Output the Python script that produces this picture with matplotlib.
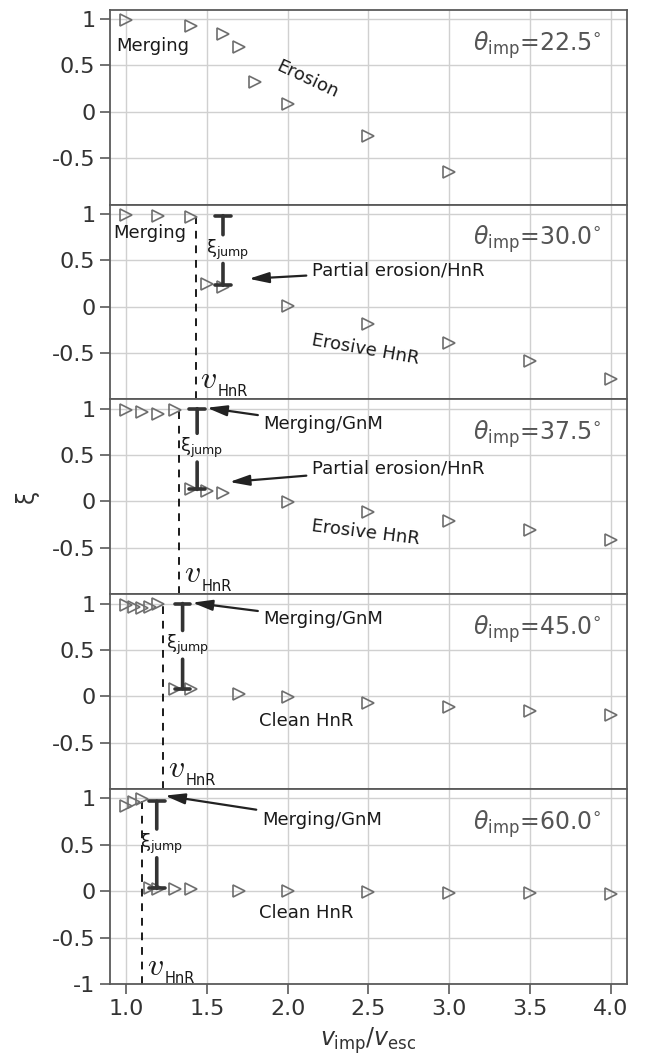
import matplotlib
matplotlib.use("Agg")
import matplotlib.pyplot as plt

# impact angles of the five panels
theta = [22.5, 30.0, 37.5, 45.0, 60.0]

# v_imp/v_esc and xi for each angle
v_225 = [1.0, 1.4, 1.6, 1.7, 1.8, 2.0, 2.5, 3.0]
xi_225 = [0.985, 0.92, 0.84, 0.70, 0.325, 0.08, -0.26, -0.65]

v_300 = [1.0, 1.2, 1.4, 1.5, 1.6, 2.0, 2.5, 3.0, 3.5, 4.0]
xi_300 = [0.99, 0.98, 0.97, 0.24, 0.21, 0.01, -0.19, -0.39, -0.585, -0.78]

v_375 = [1.0, 1.1, 1.2, 1.3, 1.4, 1.5, 1.6, 2.0, 2.5, 3.0, 3.5, 4.0]
xi_375 = [0.985, 0.96, 0.94, 0.99, 0.13, 0.11, 0.095, -0.01, -0.11, -0.21, -0.31, -0.41]

v_450 = [1.0, 1.05, 1.1, 1.15, 1.2, 1.3, 1.4, 1.7, 2.0, 2.5, 3.0, 3.5, 4.0]
xi_450 = [0.98, 0.96, 0.95, 0.96, 0.99, 0.08, 0.075, 0.02, -0.01, -0.07, -0.115, -0.155, -0.205]

v_600 = [1.0, 1.05, 1.1, 1.15, 1.2, 1.3, 1.4, 1.7, 2.0, 2.5, 3.0, 3.5, 4.0]
xi_600 = [0.92, 0.96, 0.99, 0.03, 0.025, 0.025, 0.025, 0.005, 0.0, -0.01, -0.02, -0.02, -0.025]

v_all = [v_225, v_300, v_375, v_450, v_600]
xi_all = [xi_225, xi_300, xi_375, xi_450, xi_600]

# hit-and-run threshold velocity and the xi jump
v_hnr = [None, 1.43, 1.33, 1.23, 1.10]
jump_x = [None, 1.60, 1.44, 1.35, 1.19]
jump_top = [None, 0.98, 1.0, 1.0, 0.97]
jump_bot = [None, 0.23, 0.13, 0.08, 0.03]

ytick_vals = [-1, -0.5, 0, 0.5, 1]
ytick_labels = ["-1", "-0.5", "0", "0.5", "1"]
xtick_vals = [1.0, 1.5, 2.0, 2.5, 3.0, 3.5, 4.0]

txt_col = "#1a1a1a"
gray = "#555555"

fig = plt.figure(figsize=(6.62, 10.55), dpi=100)
axes = fig.subplots(5, 1, sharex=True)
fig.subplots_adjust(left=0.166, right=0.947, top=0.9908, bottom=0.0673, hspace=0)

bar_kw = dict(lw=2.6, color="#333333", shrinkA=0, shrinkB=0, mutation_scale=20)

for i, ax in enumerate(axes):
    ax.set_xlim(0.9, 4.1)
    ax.set_ylim(-1, 1.1)
    ax.grid(True, color="#d0d0d0", lw=1.0)
    ax.set_axisbelow(True)
    for sp in ax.spines.values():
        sp.set_color("#5a5a5a")
        sp.set_linewidth(1.3)

    ax.plot(v_all[i], xi_all[i], ls="", marker=">", ms=9, mfc="none",
            mec="#6e6e6e", mew=1.2, zorder=3)

    ax.text(0.952, 0.82, r"$\theta_{\rm imp}$=%.1f$^{\circ}$" % theta[i],
            transform=ax.transAxes, ha="right", va="center", fontsize=17, color=gray)

    # y ticks, -1 only on the last panel
    ax.set_xticks(xtick_vals)
    if i < 4:
        ax.set_yticks(ytick_vals[1:])
        ax.set_yticklabels(ytick_labels[1:])
        ax.tick_params(axis="x", length=0, labelbottom=False)
    else:
        ax.set_yticks(ytick_vals)
        ax.set_yticklabels(ytick_labels)
        ax.tick_params(axis="x", length=7, width=1.2, color="#5a5a5a")
    ax.tick_params(axis="both", labelsize=16, labelcolor="#333333")
    ax.tick_params(axis="y", length=7, width=1.2, color="#5a5a5a")

    if v_hnr[i] is not None:
        ax.vlines(v_hnr[i], -1, 1.03, colors=txt_col, linestyles=(0, (4, 3.5)), lw=1.4)
        mid = (jump_top[i] + jump_bot[i]) / 2
        # jump bar, split around its label
        ax.annotate("", xy=(jump_x[i], jump_top[i]), xytext=(jump_x[i], mid + 0.17),
                    arrowprops=dict(arrowstyle="|-|, widthA=0, widthB=0.28", **bar_kw), zorder=4)
        ax.annotate("", xy=(jump_x[i], jump_bot[i]), xytext=(jump_x[i], mid - 0.14),
                    arrowprops=dict(arrowstyle="|-|, widthA=0, widthB=0.28", **bar_kw), zorder=4)
        ax.text(jump_x[i] + 0.03, mid + 0.01, u"\u03be$_{\\rm jump}$",
                ha="center", va="center", fontsize=13, color=txt_col, zorder=5)

arrow_kw = dict(arrowstyle="-|>, head_length=0.6, head_width=0.16", color="#222222",
                lw=1.6, mutation_scale=20, shrinkA=2, shrinkB=0)

# panel 1
ax = axes[0]
ax.text(0.94, 0.71, "Merging", fontsize=13, ha="left", va="center", color=txt_col)
ax.text(2.12, 0.35, "Erosion", fontsize=13, ha="center", va="center", rotation=-25, color=txt_col)

# panel 2
ax = axes[1]
ax.text(0.92, 0.79, "Merging", fontsize=13, ha="left", va="center", color=txt_col)
ax.annotate("Partial erosion/HnR", xy=(1.76, 0.30), xytext=(2.15, 0.39), fontsize=13,
            ha="left", va="center", color=txt_col, arrowprops=arrow_kw)
ax.text(2.48, -0.46, "Erosive HnR", fontsize=13, ha="center", va="center", rotation=-10, color=txt_col)

# panel 3
ax = axes[2]
ax.annotate("Merging/GnM", xy=(1.50, 1.01), xytext=(1.85, 0.83), fontsize=13,
            ha="left", va="center", color=txt_col, arrowprops=arrow_kw)
ax.annotate("Partial erosion/HnR", xy=(1.64, 0.21), xytext=(2.15, 0.36), fontsize=13,
            ha="left", va="center", color=txt_col, arrowprops=arrow_kw)
ax.text(2.48, -0.34, "Erosive HnR", fontsize=13, ha="center", va="center", rotation=-7, color=txt_col)
ax.set_ylabel(u"\u03be", fontsize=17, color="#333333", labelpad=9)

# panel 4
ax = axes[3]
ax.annotate("Merging/GnM", xy=(1.41, 1.01), xytext=(1.85, 0.83), fontsize=13,
            ha="left", va="center", color=txt_col, arrowprops=arrow_kw)
ax.text(1.82, -0.27, "Clean HnR", fontsize=13, ha="left", va="center", color=txt_col)

# panel 5
ax = axes[4]
ax.annotate("Merging/GnM", xy=(1.24, 1.03), xytext=(1.84, 0.77), fontsize=13,
            ha="left", va="center", color=txt_col, arrowprops=arrow_kw)
ax.text(1.82, -0.23, "Clean HnR", fontsize=13, ha="left", va="center", color=txt_col)
ax.set_xlabel(r"$v_{\rm imp}/v_{\rm esc}$", fontsize=17, color="#333333", labelpad=5)

# v_HnR labels: script v plus small sans subscript
hnr_lab_y = [None, -0.78, -0.78, -0.78, -0.81]
for i in range(1, 5):
    vt = axes[i].text(v_hnr[i] + 0.03, hnr_lab_y[i], r"$v$", fontsize=23,
                      ha="left", va="center", color=txt_col, math_fontfamily="cm")
    axes[i].annotate("HnR", xy=(1, 0), xycoords=vt, xytext=(0.5, -3),
                     textcoords="offset points", fontsize=10.5, ha="left", va="bottom",
                     color=txt_col)

plt.savefig("out.png", dpi=100)
